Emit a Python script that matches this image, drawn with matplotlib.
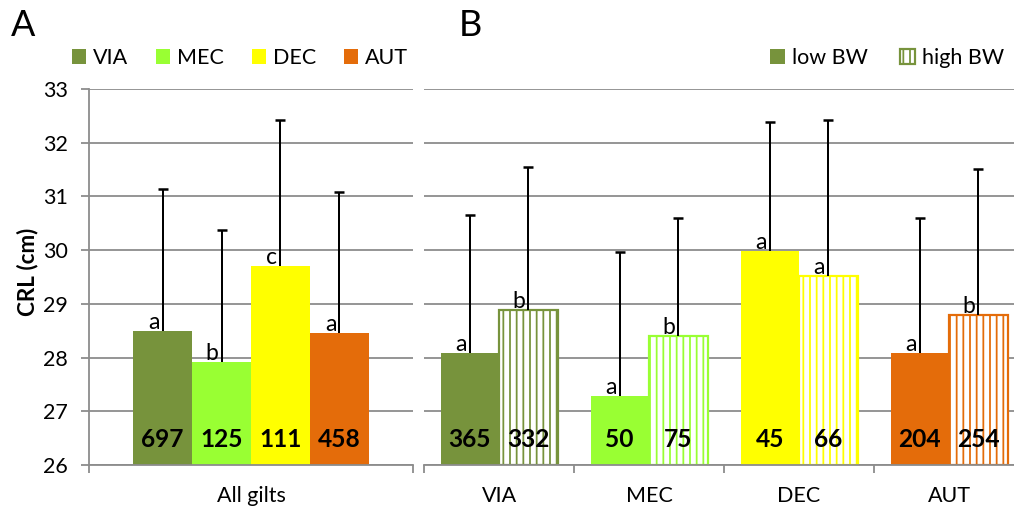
import matplotlib
matplotlib.use('Agg')
import matplotlib.pyplot as plt
from matplotlib.patches import Patch
import numpy as np

# dados
grupos = ['VIA', 'MEC', 'DEC', 'AUT']
cores = ['#77933C', '#99FF33', '#FFFF00', '#E46C0A']

# painel A - todas as leitoas
media_a = [28.50, 27.92, 29.70, 28.45]
topo_erro_a = [31.14, 30.37, 32.42, 31.08]
n_a = [697, 125, 111, 458]
letras_a = ['a', 'b', 'c', 'a']

# painel B - low BW x high BW
media_low = [28.08, 27.29, 29.99, 28.08]
topo_low = [30.65, 29.96, 32.39, 30.59]
n_low = [365, 50, 45, 204]
letras_low = ['a', 'a', 'a', 'a']

media_high = [28.88, 28.40, 29.51, 28.79]
topo_high = [31.54, 30.60, 32.42, 31.51]
n_high = [332, 75, 66, 254]
letras_high = ['b', 'b', 'a', 'b']

plt.rcParams['font.family'] = ['Lato', 'DejaVu Sans']
plt.rcParams['hatch.linewidth'] = 1.6

DPI = 80
def pt(px):
    # converte pixels em pontos
    return px * 72.0 / DPI

cinza = '#8C8C8C'
fs = pt(21.5)
fs_letra = pt(23)
fs_n = pt(24.5)

fig = plt.figure(figsize=(1014 / DPI, 507 / DPI), dpi=DPI)
ax_a = fig.add_axes([89 / 1014, 42 / 507, 324 / 1014, 376 / 507])
ax_b = fig.add_axes([424 / 1014, 42 / 507, 600 / 1014, 376 / 507])

def erro(ax, x, base, topo):
    ax.vlines(x, base, topo, color='black', linewidth=pt(2), zorder=4)
    ax.plot(x, topo, linestyle='none', marker='_', color='black',
            markersize=pt(10), markeredgewidth=pt(2.5), zorder=4)

def letra(ax, x, y, txt):
    for xi, yi, t in zip(x, y, txt):
        ax.annotate(t, (xi, yi), xytext=(pt(-3), pt(2)), textcoords='offset points',
                    ha='right', va='baseline', fontsize=fs_letra, zorder=5)

def contagem(ax, x, n):
    for xi, ni in zip(x, n):
        ax.text(xi, 26.47, str(ni), ha='center', va='center', fontsize=fs_n,
                fontweight='bold', zorder=5)

def estilo(ax, ncat):
    ax.set_ylim(26, 33)
    ax.set_xlim(-0.5, ncat - 0.5)
    ax.set_axisbelow(True)
    ax.yaxis.grid(True, color=cinza, linewidth=pt(1.8))
    for s in ['top', 'right', 'left']:
        ax.spines[s].set_visible(False)
    ax.spines['bottom'].set_color(cinza)
    ax.spines['bottom'].set_linewidth(pt(1.8))
    ax.set_xticks(np.arange(-0.5, ncat, 1.0), minor=True)
    ax.tick_params(axis='x', which='minor', length=pt(8), width=pt(1.8), color=cinza)
    ax.tick_params(axis='x', which='major', length=0, labelsize=fs, pad=pt(21))

# ---- painel A
w_a = 0.182
x_a = (np.arange(4) - 1.5) * w_a
ax_a.bar(x_a, np.array(media_a) - 26, w_a, bottom=26, color=cores, zorder=2)
erro(ax_a, x_a, media_a, topo_erro_a)
letra(ax_a, x_a, media_a, letras_a)
contagem(ax_a, x_a, n_a)
estilo(ax_a, 1)
ax_a.spines['left'].set_visible(True)
ax_a.spines['left'].set_color(cinza)
ax_a.spines['left'].set_linewidth(pt(1.8))
ax_a.set_xticks([0])
ax_a.set_xticklabels(['All gilts'])
ax_a.set_yticks(range(26, 34))
ax_a.tick_params(axis='y', length=pt(8), width=pt(1.8), color=cinza, labelsize=fs, pad=pt(13))

# ---- painel B
pos = np.arange(4)
w_b = 0.39
x_low = pos - 0.195
x_high = pos + 0.195
ax_b.bar(x_low, np.array(media_low) - 26, w_b, bottom=26, color=cores, zorder=2)
ax_b.bar(x_high, np.array(media_high) - 26, w_b, bottom=26, facecolor='white',
         edgecolor=cores, hatch='||', linewidth=pt(2.2), zorder=2)
erro(ax_b, x_low, media_low, topo_low)
erro(ax_b, x_high, media_high, topo_high)
letra(ax_b, x_low, media_low, letras_low)
letra(ax_b, x_high, media_high, letras_high)
contagem(ax_b, x_low, n_low)
contagem(ax_b, x_high, n_high)
estilo(ax_b, 4)
ax_b.set_xticks(pos)
ax_b.set_xticklabels(grupos)
ax_b.set_yticks(range(26, 34))
ax_b.tick_params(axis='y', length=0, labelleft=False)

# legendas
h_a = [Patch(facecolor=c, edgecolor='none') for c in cores]
fig.legend(h_a, grupos, loc='center', bbox_to_anchor=(240 / 1014, 1 - 58 / 507),
           ncol=4, frameon=False, fontsize=fs, handlelength=0.65, handleheight=0.65,
           handletextpad=0.33, columnspacing=1.3, borderpad=0, borderaxespad=0)
h_b = [Patch(facecolor=cores[0], edgecolor='none'),
       Patch(facecolor='white', edgecolor=cores[0], hatch='||', linewidth=pt(2.2))]
fig.legend(h_b, ['low BW', 'high BW'], loc='center', bbox_to_anchor=(887 / 1014, 1 - 58 / 507),
           ncol=2, frameon=False, fontsize=fs, handlelength=0.72, handleheight=0.72,
           handletextpad=0.3, columnspacing=1.5, borderpad=0, borderaxespad=0)

fig.text(27 / 1014, 1 - 272 / 507, 'CRL (cm)', rotation=90, ha='center', va='center',
         fontsize=pt(22.5), fontweight='bold')
fig.text(11 / 1014, 1 - 26 / 507, 'A', ha='left', va='center', fontsize=pt(36))
fig.text(459 / 1014, 1 - 26 / 507, 'B', ha='left', va='center', fontsize=pt(36))

fig.savefig('out.png', dpi=DPI)
